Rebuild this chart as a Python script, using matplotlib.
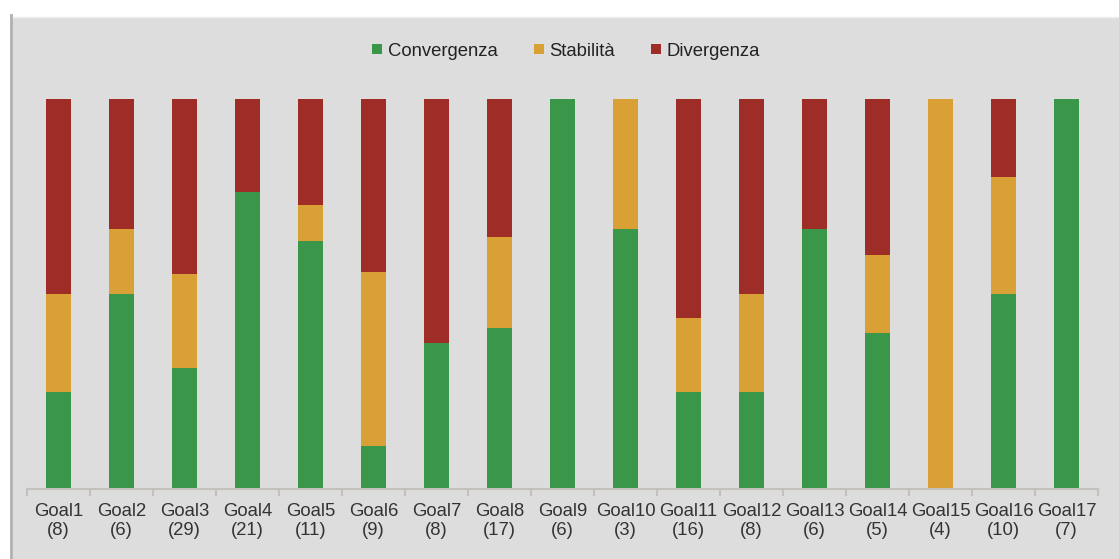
import matplotlib
matplotlib.use("Agg")
import matplotlib.pyplot as plt
from matplotlib.lines import Line2D
from matplotlib.patches import Rectangle
import numpy as np

plt.rcParams['font.family'] = ['Liberation Sans', 'DejaVu Sans']

goals = [f"Goal{i}" for i in range(1, 18)]
totals = [8, 6, 29, 21, 11, 9, 8, 17, 6, 3, 16, 8, 6, 5, 4, 10, 7]
convergenza = [2, 3, 9, 16, 7, 1, 3, 7, 6, 2, 4, 2, 4, 2, 0, 5, 7]
stabilita = [2, 1, 7, 0, 1, 4, 0, 4, 0, 1, 3, 2, 0, 1, 4, 3, 0]
divergenza = [4, 2, 13, 5, 3, 4, 5, 6, 0, 0, 9, 4, 2, 2, 0, 2, 0]

series_names = ["Convergenza", "Stabilità", "Divergenza"]
colors = ["#3a9649", "#d9a036", "#9e2c27"]

W, H = 1119, 559
fig = plt.figure(figsize=(W / 100, H / 100), dpi=100)
fig.patch.set_facecolor("white")
# grey panel
fig.add_artist(Rectangle((13 / W, 0), 1 - 13 / W, (H - 17) / H, transform=fig.transFigure,
                         facecolor="#dddddd", edgecolor="none", zorder=-10))
fig.add_artist(Line2D([10.5 / W, 10.5 / W], [0, (H - 15) / H], transform=fig.transFigure,
                      color="#b0b0b0", linewidth=2, zorder=-9))
fig.add_artist(Line2D([13 / W, 1], [(H - 17) / H, (H - 17) / H], transform=fig.transFigure,
                      color="#eeeeee", linewidth=1, zorder=-9))

ax = fig.add_axes([27 / W, (H - 489) / H, (1098 - 27) / W, (489 - 99) / H])
ax.set_facecolor("none")

x = np.arange(len(goals))
tot = np.array(totals, dtype=float)
bottom = np.zeros(len(goals))
for vals, name, c in zip([convergenza, stabilita, divergenza], series_names, colors):
    share = np.array(vals) / tot
    ax.bar(x, share, width=0.4, bottom=bottom, color=c, label=name, linewidth=0)
    bottom += share

ax.set_xlim(-0.5, len(goals) - 0.5)
ax.set_ylim(0, 1)
ax.set_yticks([])
for s in ["top", "right", "left"]:
    ax.spines[s].set_visible(False)
ax.spines["bottom"].set_color("#c4c0bc")
ax.spines["bottom"].set_linewidth(1.5)

ax.set_xticks(x)
ax.set_xticklabels([f"{g}\n({t})" for g, t in zip(goals, totals)], fontsize=13.3,
                   color="#333333", linespacing=1.2)
ax.tick_params(axis="x", length=0, pad=10)
ax.set_xticks(np.arange(-0.5, len(goals)), minor=True)
ax.tick_params(axis="x", which="minor", length=5, color="#c4c0bc", width=1.5)

handles = [Line2D([], [], marker="s", linestyle="none", markersize=7, color=c,
                  markeredgewidth=0) for c in colors]
fig.legend(handles, series_names, loc="center", bbox_to_anchor=(565 / W, (H - 51) / H),
           ncol=3, frameon=False, fontsize=13.3, handlelength=0.8, handletextpad=0.2,
           columnspacing=1.8, labelcolor="#222222")

fig.savefig("out.png", dpi=100)
